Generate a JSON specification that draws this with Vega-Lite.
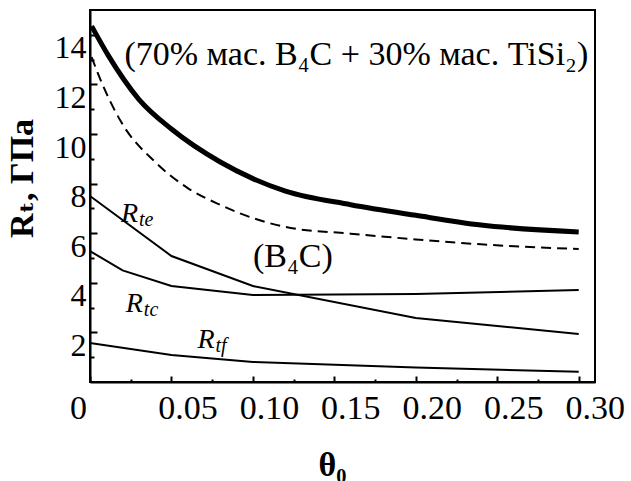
{
  "$schema": "https://vega.github.io/schema/vega-lite/v6.json",
  "width": 505,
  "height": 372,
  "autosize": {"type": "none"},
  "padding": {"left": 90, "top": 10, "right": 36, "bottom": 99},
  "background": "white",
  "config": {
    "view": {"stroke": "black", "strokeWidth": 2},
    "font": "'Liberation Serif', 'DejaVu Serif', serif"
  },
  "datasets": {
    "curves": [
      {"series": "composite", "theta": 0.001, "value": 14.35},
      {"series": "composite", "theta": 0.011, "value": 13.19},
      {"series": "composite", "theta": 0.03, "value": 11.4},
      {"series": "composite", "theta": 0.05, "value": 10.2},
      {"series": "composite", "theta": 0.08, "value": 8.87},
      {"series": "composite", "theta": 0.1, "value": 8.2},
      {"series": "composite", "theta": 0.12, "value": 7.7},
      {"series": "composite", "theta": 0.16, "value": 7.15},
      {"series": "composite", "theta": 0.2, "value": 6.72},
      {"series": "composite", "theta": 0.24, "value": 6.33},
      {"series": "composite", "theta": 0.3, "value": 6.05},
      {"series": "B4C", "theta": 0.001, "value": 13.1},
      {"series": "B4C", "theta": 0.007, "value": 12.1},
      {"series": "B4C", "theta": 0.019, "value": 10.5},
      {"series": "B4C", "theta": 0.04, "value": 8.87},
      {"series": "B4C", "theta": 0.06, "value": 7.82},
      {"series": "B4C", "theta": 0.08, "value": 7.14},
      {"series": "B4C", "theta": 0.1, "value": 6.61},
      {"series": "B4C", "theta": 0.12, "value": 6.25},
      {"series": "B4C", "theta": 0.16, "value": 5.98},
      {"series": "B4C", "theta": 0.2, "value": 5.75},
      {"series": "B4C", "theta": 0.24, "value": 5.55},
      {"series": "B4C", "theta": 0.3, "value": 5.36},
      {"series": "Rte", "theta": 0.0, "value": 7.5},
      {"series": "Rte", "theta": 0.05, "value": 5.08},
      {"series": "Rte", "theta": 0.1, "value": 3.87},
      {"series": "Rte", "theta": 0.2, "value": 2.58},
      {"series": "Rte", "theta": 0.3, "value": 1.94},
      {"series": "Rtc", "theta": 0.0, "value": 5.28},
      {"series": "Rtc", "theta": 0.02, "value": 4.5},
      {"series": "Rtc", "theta": 0.05, "value": 3.87},
      {"series": "Rtc", "theta": 0.1, "value": 3.51},
      {"series": "Rtc", "theta": 0.2, "value": 3.55},
      {"series": "Rtc", "theta": 0.3, "value": 3.71},
      {"series": "Rtf", "theta": 0.0, "value": 1.57},
      {"series": "Rtf", "theta": 0.05, "value": 1.09},
      {"series": "Rtf", "theta": 0.1, "value": 0.81},
      {"series": "Rtf", "theta": 0.2, "value": 0.58},
      {"series": "Rtf", "theta": 0.3, "value": 0.41}
    ],
    "notes": [
      {"theta": 0.1635, "value": 12.8, "txt": "(70% мас. B₄C + 30% мас. TiSi₂)"},
      {"theta": 0.1245, "value": 4.64, "txt": "(B₄C)"}
    ],
    "rlabels": [
      {"theta": 0.019, "value": 6.45, "main": "R", "sub": "te"},
      {"theta": 0.022, "value": 2.82, "main": "R", "sub": "tc"},
      {"theta": 0.066, "value": 1.37, "main": "R", "sub": "tf"}
    ]
  },
  "encoding": {
    "x": {
      "field": "theta",
      "type": "quantitative",
      "scale": {"domain": [0, 0.31], "nice": false, "zero": false},
      "axis": {
        "values": [0, 0.025, 0.05, 0.075, 0.1, 0.125, 0.15, 0.175, 0.2, 0.225, 0.25, 0.275, 0.3],
        "grid": false,
        "domainColor": "black",
        "domainWidth": 2,
        "tickColor": "black",
        "tickWidth": 2,
        "tickSize": {"condition": {"test": "abs(datum.value*20 - round(datum.value*20)) < 0.001", "value": -6}, "value": -3},
        "labelExpr": "abs(datum.value*20 - round(datum.value*20)) < 0.001 ? (datum.value == 0 ? '0' : format(datum.value, '.2f')) : ''",
        "labelFont": "'Liberation Serif', serif",
        "labelFontSize": 34,
        "labelColor": "black",
        "labelPadding": 15,
        "labelOffset": {"condition": {"test": "datum.value == 0", "value": -12}, "value": 16},
        "labelOverlap": false,
        "labelFlush": false,
        "labelBound": false,
        "title": "θ₀",
        "titleFont": "'Liberation Serif', 'DejaVu Serif', serif",
        "titleFontSize": 34,
        "titleFontWeight": "bold",
        "titleColor": "black",
        "titleX": 242,
        "titleY": 83,
        "titleBaseline": "middle"
      }
    },
    "y": {
      "field": "value",
      "type": "quantitative",
      "scale": {"domain": [0, 15], "nice": false, "zero": false},
      "axis": {
        "values": [1, 2, 3, 4, 5, 6, 7, 8, 9, 10, 11, 12, 13, 14],
        "grid": false,
        "domainColor": "black",
        "domainWidth": 2,
        "tickColor": "black",
        "tickWidth": 2,
        "tickSize": {"condition": {"test": "datum.value % 2 == 0", "value": -7}, "value": -4},
        "labelExpr": "datum.value % 2 == 0 ? datum.label : ''",
        "labelFont": "'Liberation Serif', serif",
        "labelFontSize": 32,
        "labelColor": "black",
        "labelPadding": 11,
        "labelOffset": 13,
        "labelOverlap": false,
        "labelFlush": false,
        "labelBound": false,
        "title": "Rₜ, ГПа",
        "titleFont": "'Liberation Serif', 'DejaVu Serif', serif",
        "titleFontSize": 34,
        "titleFontWeight": "bold",
        "titleColor": "black",
        "titleX": -68,
        "titleY": 168,
        "titleBaseline": "middle"
      }
    }
  },
  "layer": [
    {
      "data": {"name": "curves"},
      "transform": [{"filter": "datum.series == 'composite'"}],
      "mark": {"type": "line", "interpolate": "monotone", "color": "black", "strokeWidth": 5},
      "encoding": {}
    },
    {
      "data": {"name": "curves"},
      "transform": [{"filter": "datum.series == 'B4C'"}],
      "mark": {"type": "line", "interpolate": "monotone", "color": "black", "strokeWidth": 2, "strokeDash": [10, 6]},
      "encoding": {}
    },
    {
      "data": {"name": "curves"},
      "transform": [{"filter": "datum.series == 'Rte' || datum.series == 'Rtc' || datum.series == 'Rtf'"}],
      "mark": {"type": "line", "interpolate": "linear", "color": "black", "strokeWidth": 2},
      "encoding": {"detail": {"field": "series"}}
    },
    {
      "data": {"name": "notes"},
      "mark": {"type": "text", "align": "center", "baseline": "alphabetic", "fontSize": 34, "font": "'Liberation Serif', 'DejaVu Serif', serif", "color": "black"},
      "encoding": {"text": {"field": "txt"}}
    },
    {
      "data": {"name": "rlabels"},
      "mark": {"type": "text", "align": "left", "baseline": "alphabetic", "fontSize": 28, "fontStyle": "italic", "font": "'Liberation Serif', serif", "color": "black"},
      "encoding": {"text": {"field": "main"}}
    },
    {
      "data": {"name": "rlabels"},
      "mark": {"type": "text", "align": "left", "baseline": "alphabetic", "fontSize": 20, "fontStyle": "italic", "font": "'Liberation Serif', serif", "color": "black", "dx": 18, "dy": 4},
      "encoding": {"text": {"field": "sub"}}
    }
  ]
}
